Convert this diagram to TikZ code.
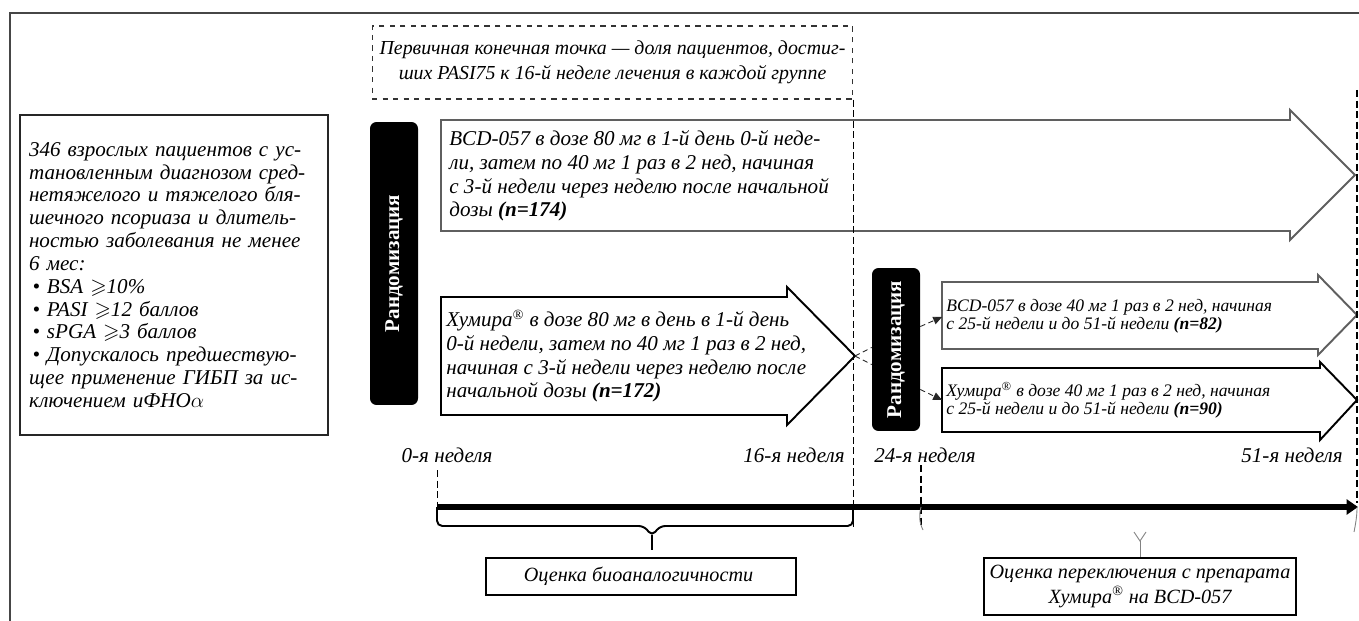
\documentclass[tikz,border=0pt]{standalone}
\usepackage{amsmath}
\usepackage{amssymb}
\usepackage{fontspec}
\setmainfont{Liberation Serif}
\definecolor{FrameGray}{RGB}{70,70,70}
\definecolor{ArrowGray}{RGB}{95,95,95}
\definecolor{FaintGray}{RGB}{130,130,130}
\usepackage{tikz}
\usetikzlibrary{
    arrows.meta,
    positioning,
    calc
}

\begin{document}
\begin{tikzpicture}[
    x=0.02cm,
    y=-0.02cm,
    frame/.style={
        draw=FrameGray,
        line width=0.9pt
    },
    patient/.style={
        draw=black!85,
        line width=1.2pt,
        minimum width=6.16cm,
        minimum height=6.4cm,
        text width=5.8cm,
        align=left,
        inner sep=0pt,
        font=\itshape\fontsize{12}{13}\selectfont
    },
    endpoint/.style={
        draw=black!80,
        dashed,
        line width=0.6pt,
        minimum width=9.62cm,
        minimum height=1.46cm,
        align=center,
        inner sep=0pt,
        font=\itshape\fontsize{11.3}{14}\selectfont
    },
    randbox/.style={
        fill=black,
        rounded corners=1.3mm,
        rotate=90,
        minimum height=0.96cm,
        text=white,
        inner sep=0pt,
        font=\bfseries\fontsize{12}{14}\selectfont
    },
    armlight/.style={
        draw=ArrowGray,
        line width=1.1pt
    },
    armdark/.style={
        draw=black,
        line width=1.1pt
    },
    armtext/.style={
        anchor=west,
        align=left,
        inner sep=0pt,
        font=\itshape\fontsize{12}{13.5}\selectfont
    },
    armsmall/.style={
        anchor=west,
        align=left,
        inner sep=0pt,
        font=\itshape\fontsize{10}{10}\selectfont
    },
    week/.style={
        inner sep=0pt,
        font=\itshape\fontsize{12}{14}\selectfont
    },
    evalbox/.style={
        draw=black,
        line width=1pt,
        align=center,
        inner sep=0pt,
        font=\itshape\fontsize{11.5}{14}\selectfont
    },
    guide/.style={
        draw=black,
        line width=0.8pt,
        dash pattern=on 4pt off 2pt
    },
    link/.style={
        draw=black!85,
        line width=0.5pt,
        densely dashed
    },
    linkarrow/.style={
        link,
        -{Triangle[length=5pt,width=4.5pt]}
    },
    timeline/.style={
        draw=black,
        line width=3.4pt,
        -{Triangle[length=6.5pt,width=8.5pt]}
    },
    brace/.style={
        draw=black,
        line width=1.1pt,
        rounded corners=3pt
    },
    faintbrace/.style={
        draw=FaintGray,
        line width=0.5pt
    }
]
\useasboundingbox (0,0) rectangle (1359,621);
%
\draw[frame] (1359,13) -- (10,13) -- (10,621);
%
\node[patient] (patients) at (174,275) {
    346 взрослых пациентов с ус-\\
    тановленным диагнозом сред-\\
    нетяжелого и тяжелого бля-\\
    шечного псориаза и длитель-\\
    ностью заболевания не менее\\
    6 мес:\\
    \,•\ BSA $\geqslant$10\%\\
    \,•\ PASI $\geqslant$12 баллов\\
    \,•\ sPGA $\geqslant$3 баллов\\
    \,•\ Допускалось предшествую-\\
    щее применение ГИБП за ис-\\
    ключением иФНО$\alpha$
};
%
\node[endpoint] (endpoint) at (612.5,62.5) {
    Первичная конечная точка — доля пациентов, достиг-\\
    ших PASI75 к 16-й неделе лечения в каждой группе
};
%
\node[randbox, minimum width=5.66cm] (rand1) at (394,263.5) {Рандомизация};
\node[randbox, minimum width=3.26cm] (rand2) at (896,349.5) {Рандомизация};
%
% treatment arms
\draw[armlight] (441,120) -- (1290,120) -- (1290,110) -- (1355,175)
    -- (1290,240) -- (1290,231) -- (441,231) -- cycle;
\node[armtext] (arm1) at (449,176) {
    BCD-057 в дозе 80 мг в 1-й день 0-й неде-\\
    ли, затем по 40 мг 1 раз в 2 нед, начиная\\
    с 3-й недели через неделю после начальной\\
    дозы \textbf{(n=174)}
};
%
\draw[armdark] (441,297) -- (787,297) -- (787,287) -- (855,356)
    -- (787,425) -- (787,415) -- (441,415) -- cycle;
\coordinate (tip2) at (855,356);
\node[armtext] (arm2) at (446,356) {
    Хумира\textsuperscript{®} в дозе 80 мг в день в 1-й день\\
    0-й недели, затем по 40 мг 1 раз в 2 нед,\\
    начиная с 3-й недели через неделю после\\
    начальной дозы \textbf{(n=172)}
};
%
\draw[armlight] (942,282) -- (1318,282) -- (1318,275) -- (1357,315)
    -- (1318,355) -- (1318,349) -- (942,349) -- cycle;
\coordinate (in3) at (942,317);
\node[armsmall] (arm3) at (946,316) {
    BCD-057 в дозе 40 мг 1 раз в 2 нед, начиная\\
    с 25-й недели и до 51-й недели \textbf{(n=82)}
};
%
\draw[armdark] (942,368) -- (1320,368) -- (1320,362) -- (1357,400)
    -- (1320,440) -- (1320,432) -- (942,432) -- cycle;
\coordinate (in4) at (942,400);
\node[armsmall] (arm4) at (946,400) {
    Хумира\textsuperscript{®} в дозе 40 мг 1 раз в 2 нед, начиная\\
    с 25-й недели и до 51-й недели \textbf{(n=90)}
};
%
% re-randomisation links (rand2 is turned: north is its left side)
\draw[link] (tip2) -- ($(rand2.north)+(0,-2)$);
\draw[link] (tip2) -- ($(rand2.north)+(0,15)$);
\draw[linkarrow] ($(rand2.south)+(0,-23)$) -- (in3);
\draw[linkarrow] ($(rand2.south)+(0,40)$) -- (in4);
%
% time axis
\coordinate (t0) at (437,507);
\coordinate (t1) at (1358,507);
\draw[guide] (endpoint.south east) -- ++(0,427);
\draw[guide] (1357,90) -- (1357,503);
\draw[guide, line width=0.5pt] (437,470) -- (t0);
\draw[guide] (921,465) -- (921,528);
\draw[timeline] (t0) -- (t1);
%
\node[week] (w0) at (447,455) {0-я неделя};
\node[week] (w16) at (794,455) {16-я неделя};
\node[week] (w24) at (925,455) {24-я неделя};
\node[week] (w51) at (1292,455) {51-я неделя};
%
\node[evalbox, minimum width=6.2cm, minimum height=0.74cm] (bio) at (641,576.5) {
    Оценка биоаналогичности
};
\node[evalbox, minimum width=6.24cm, minimum height=1.14cm] (switch) at (1140,586.5) {
    Оценка переключения с препарата\\
    Хумира\textsuperscript{®} на BCD-057
};
%
\draw[brace] (t0) |- (644,526) -- (652,536) -- (660,526) -| (853,507);
\draw[brace] (652,535) -- (652,550);
%
\draw[faintbrace] (921,507) .. controls (919,515) and (919,522) .. (923,530);
\draw[faintbrace] (1357,507) .. controls (1357,515) and (1356,522) .. (1354,532);
\draw[faintbrace] (1134,532) -- (1140,541) -- (1146,532);
\draw[faintbrace] (1140,541) -- (switch.north);
%
\end{tikzpicture}
\end{document}
